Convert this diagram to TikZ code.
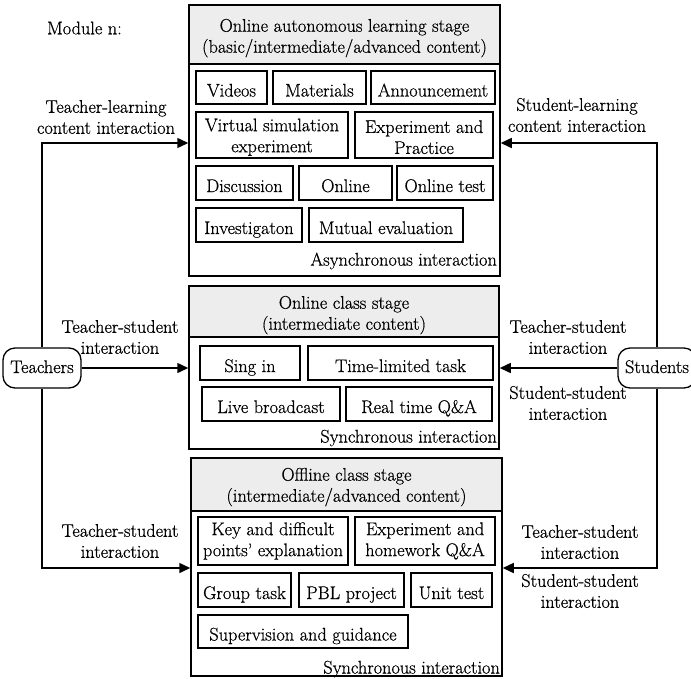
\documentclass[tikz,border=0pt]{standalone}
\usepackage{fontspec}
\setmainfont{Latin Modern Roman}[FakeBold=0.6]
\usetikzlibrary{arrows.meta,calc}
\newcommand\mystrut[1]{\rule{0pt}{#1}}
\begin{document}
\begin{tikzpicture}[x=1pt,y=-1pt,
  every node/.style={font=\fontsize{18.3}{21}\selectfont},
  item/.style={draw,line width=1.3pt,inner sep=0pt,align=center},
  one/.style={item,text height=19.5pt,text depth=1.5pt},
  stagebox/.style={draw,line width=1.5pt,inner sep=0pt},
  stagehead/.style={draw,line width=1.5pt,fill=black!7,inner sep=0pt,align=center},
  actor/.style={draw,line width=1.3pt,rounded corners=12pt,fill=white,inner sep=0pt,minimum width=78pt,minimum height=40pt,text height=14pt,text depth=4pt},
  lbl/.style={align=center,inner sep=0pt},
  conn/.style={line width=1.5pt,-{Triangle[length=11pt,width=10pt]}}
]
\useasboundingbox (0,0) rectangle (691,678);
\clip (0,0) rectangle (691,678);

% Module label
\node[lbl,anchor=west] (mod) at (47,28) {Module n:};

% Stage 1
\node[stagebox,minimum width=311pt,minimum height=271pt] (s1) at (344.5,140.5) {};
\node[stagehead,minimum width=311pt,minimum height=59pt] (s1h) at (344.5,34.5) {\mystrut{20pt}Online autonomous learning stage\\(basic/intermediate/advanced content)};
\node[one,minimum width=71pt,minimum height=33pt] (vid) at (231.5,87.5) {Videos};
\node[one,minimum width=93pt,minimum height=33pt] (mat) at (319.5,87.5) {Materials};
\node[one,minimum width=124pt,minimum height=33pt] (ann) at (433,87.5) {Announcement};
\node[item,minimum width=152pt,minimum height=46pt] (vse) at (272,135) {\mystrut{17pt}Virtual simulation\\experiment};
\node[item,minimum width=138pt,minimum height=46pt] (exp) at (424,135) {\mystrut{17pt}Experiment and\\Practice};
\node[one,minimum width=97pt,minimum height=34pt] (dis) at (244.5,183) {Discussion};
\node[one,minimum width=93pt,minimum height=34pt] (onl) at (345.5,183) {Online};
\node[one,minimum width=96pt,minimum height=34pt] (otest) at (445,183) {Online test};
\node[one,minimum width=106pt,minimum height=34pt] (inv) at (249,225) {Investigaton};
\node[one,minimum width=154pt,minimum height=34pt] (mut) at (386,225) {Mutual evaluation};
\node[lbl,anchor=east] (asy) at (497,261) {Asynchronous interaction};

% Stage 2
\node[stagebox,minimum width=310pt,minimum height=163pt] (s2) at (344,367.5) {};
\node[stagehead,minimum width=310pt,minimum height=51pt] (s2h) at (344,311.5) {\mystrut{20pt}Online class stage\\(intermediate content)};
\node[one,minimum width=100pt,minimum height=34pt] (sing) at (250,363) {Sing in};
\node[one,minimum width=185pt,minimum height=34pt] (tlt) at (400.5,363) {Time-limited task};
\node[one,minimum width=138pt,minimum height=34pt] (live) at (271,404) {Live broadcast};
\node[one,minimum width=146pt,minimum height=34pt] (rtqa) at (419,404) {Real time Q\&A};
\node[lbl,anchor=east] (syn2) at (497,438) {Synchronous interaction};

% Stage 3
\node[stagebox,minimum width=311pt,minimum height=218pt] (s3) at (346.5,567) {};
\node[stagehead,minimum width=311pt,minimum height=53pt] (s3h) at (346.5,484.5) {\mystrut{18pt}Offline class stage\\(intermediate/advanced content)};
\node[item,minimum width=150pt,minimum height=48pt] (key) at (273,541) {Key and difficult\\points' explanation};
\node[item,minimum width=140pt,minimum height=48pt] (ehq) at (425,541) {Experiment and\\homework Q\&A};
\node[one,minimum width=93pt,minimum height=34pt] (grp) at (244.5,590) {Group task};
\node[one,minimum width=105pt,minimum height=34pt] (pbl) at (351.5,590) {PBL project};
\node[one,minimum width=81pt,minimum height=34pt] (unit) at (451.5,590) {Unit test};
\node[one,minimum width=210pt,minimum height=33pt] (sup) at (303,631.5) {Supervision and guidance};
\node[lbl,anchor=east] (syn3) at (500,669) {Synchronous interaction};

% Actors
\node[actor] (T) at (42,368) {Teachers};
\node[actor] (S) at (657,368) {Students};

% Connectors
\draw[conn] (T.north) |- (s1.west |- 0,143);
\draw[conn] (T.east) -- (T.east -| s2.west);
\draw[conn] (T.south) |- (s3.west |- 0,568);
\draw[conn] (S.north) |- (s1.east |- 0,143);
\draw[conn] (S.west) -- (S.west -| s2.east);
\draw[conn] (S.south) |- (s3.east |- 0,568);

% Connector labels
\node[lbl] (ltop) at (106,117) {Teacher-learning\\content interaction};
\node[lbl] (rtop) at (577,115) {Student-learning\\content interaction};
\node[lbl] (lmid) at (120,337) {Teacher-student\\interaction};
\node[lbl] (rmida) at (568,337) {Teacher-student\\interaction};
\node[lbl] (rmidb) at (568,403) {Student-student\\interaction};
\node[lbl] (lbot) at (120,541) {Teacher-student\\interaction};
\node[lbl] (rbota) at (580,542) {Teacher-student\\interaction};
\node[lbl] (rbotb) at (580,591) {Student-student\\interaction};
\end{tikzpicture}
\end{document}
